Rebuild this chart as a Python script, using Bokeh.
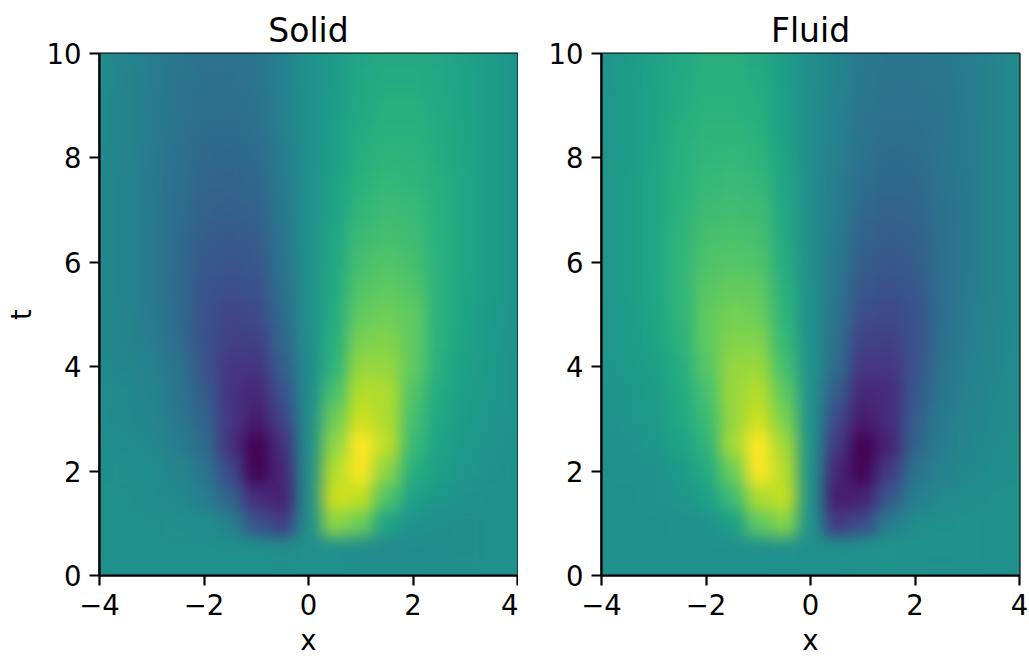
import numpy as np
from bokeh.plotting import figure
from bokeh.layouts import row
from bokeh.document import Document
from bokeh.models import Range1d, LinearColorMapper, FixedTicker, CustomJS
from bokeh.palettes import Viridis256
from bokeh.embed import file_html
from bokeh.resources import INLINE

x_ticks = [-4, -2, 0, 2, 4]
t_ticks = [0, 2, 4, 6, 8, 10]
x_labels = {-4: "\u22124", -2: "\u22122", 0: "0", 2: "2", 4: "4"}
titles = ["Solid", "Fluid"]

# rows: t = 0, 0.5, ... 10; columns: x = -4, -3.5, ... 4
solid = [
 [0,0,0,0,0,0,0,0,0,0,0,0,0,0,0,0,0],
 [0,0,0,0,0,0,0,-.01,0,0,-.03,-.04,-.03,-.02,-.01,0,0],
 [0,0,0,-.01,-.03,-.12,-.5,-.64,-.02,.66,.55,.15,.02,0,-.01,0,0],
 [0,0,-.02,-.05,-.14,-.38,-.75,-.82,-.02,.85,.82,.45,.14,.06,.02,0,0],
 [0,-.01,-.03,-.09,-.22,-.55,-1,-.78,-.02,.78,.98,.65,.25,.12,.05,.02,0],
 [-.01,-.03,-.06,-.15,-.3,-.72,-1,-.72,-.02,.66,1,.8,.35,.15,.08,.04,.01],
 [-.02,-.05,-.08,-.2,-.36,-.68,-.85,-.6,-.02,.55,.85,.75,.4,.18,.09,.05,.02],
 [-.03,-.06,-.1,-.22,-.42,-.7,-.78,-.5,-.03,.42,.78,.75,.45,.22,.12,.07,.02],
 [-.04,-.08,-.12,-.24,-.47,-.68,-.7,-.4,-.03,.3,.68,.68,.5,.25,.13,.08,.02],
 [-.05,-.1,-.15,-.28,-.5,-.62,-.62,-.34,-.01,.26,.6,.62,.5,.27,.15,.08,.03],
 [-.05,-.1,-.17,-.3,-.5,-.58,-.55,-.3,0,.24,.52,.56,.5,.28,.16,.09,.03],
 [-.05,-.11,-.18,-.32,-.48,-.53,-.5,-.27,0,.22,.46,.51,.46,.28,.17,.1,.03],
 [-.05,-.11,-.18,-.31,-.44,-.47,-.45,-.24,.01,.2,.41,.46,.41,.27,.18,.1,.03],
 [-.05,-.11,-.18,-.3,-.41,-.43,-.41,-.22,.01,.18,.36,.41,.38,.27,.18,.1,.03],
 [-.05,-.11,-.18,-.28,-.37,-.39,-.37,-.2,.01,.16,.32,.37,.35,.26,.18,.1,.03],
 [-.05,-.11,-.18,-.27,-.34,-.36,-.33,-.18,.01,.15,.28,.33,.31,.25,.18,.1,.03],
 [-.05,-.1,-.17,-.26,-.32,-.33,-.3,-.16,.01,.13,.25,.3,.29,.24,.17,.1,.03],
 [-.04,-.1,-.16,-.25,-.3,-.3,-.27,-.14,.01,.12,.23,.27,.27,.23,.17,.1,.03],
 [-.04,-.1,-.16,-.23,-.28,-.28,-.25,-.13,.01,.11,.21,.25,.25,.22,.16,.1,.03],
 [-.03,-.1,-.15,-.22,-.26,-.26,-.23,-.12,.01,.1,.2,.23,.23,.21,.16,.1,.03],
 [-.03,-.09,-.15,-.21,-.25,-.25,-.22,-.12,.01,.1,.18,.22,.22,.2,.15,.1,.03],
]
fluid = [
 [0,0,0,0,0,0,0,0,0,0,0,0,0,0,0,0,0],
 [0,0,0,0,0,0,0,.01,0,0,.03,.04,.03,.02,.01,0,0],
 [0,0,0,.01,.03,.12,.5,.64,.02,-.66,-.55,-.15,-.02,0,.01,0,0],
 [0,0,.02,.05,.14,.38,.75,.82,.02,-.85,-.82,-.45,-.14,-.06,-.02,0,0],
 [0,.01,.03,.09,.22,.55,1,.78,.02,-.78,-.98,-.65,-.25,-.12,-.05,-.02,0],
 [.01,.03,.06,.15,.3,.72,1,.72,.02,-.66,-1,-.8,-.35,-.15,-.08,-.04,-.01],
 [.02,.05,.08,.2,.36,.68,.85,.6,.02,-.55,-.85,-.75,-.4,-.18,-.09,-.05,-.02],
 [.03,.06,.1,.22,.42,.7,.78,.5,.03,-.42,-.78,-.75,-.45,-.22,-.12,-.07,-.02],
 [.04,.08,.12,.24,.47,.68,.7,.4,.03,-.3,-.68,-.68,-.5,-.25,-.13,-.08,-.02],
 [.05,.1,.15,.28,.5,.62,.62,.34,.01,-.26,-.6,-.62,-.5,-.27,-.15,-.08,-.03],
 [.05,.1,.17,.3,.5,.58,.55,.3,0,-.24,-.52,-.56,-.5,-.28,-.16,-.09,-.03],
 [.05,.11,.18,.32,.48,.53,.5,.27,0,-.22,-.46,-.51,-.46,-.28,-.17,-.1,-.03],
 [.05,.11,.18,.31,.44,.47,.45,.24,-.01,-.2,-.41,-.46,-.41,-.27,-.18,-.1,-.03],
 [.05,.11,.18,.3,.41,.43,.41,.22,-.01,-.18,-.36,-.41,-.38,-.27,-.18,-.1,-.03],
 [.05,.11,.18,.28,.37,.39,.37,.2,-.01,-.16,-.32,-.37,-.35,-.26,-.18,-.1,-.03],
 [.05,.11,.18,.27,.34,.36,.33,.18,-.01,-.15,-.28,-.33,-.31,-.25,-.18,-.1,-.03],
 [.05,.1,.17,.26,.32,.33,.3,.16,-.01,-.13,-.25,-.3,-.29,-.24,-.17,-.1,-.03],
 [.04,.1,.16,.25,.3,.3,.27,.14,-.01,-.12,-.23,-.27,-.27,-.23,-.17,-.1,-.03],
 [.04,.1,.16,.23,.28,.28,.25,.13,-.01,-.11,-.21,-.25,-.25,-.22,-.16,-.1,-.03],
 [.03,.1,.15,.22,.26,.26,.23,.12,-.01,-.1,-.2,-.23,-.23,-.21,-.16,-.1,-.03],
 [.03,.09,.15,.21,.25,.25,.22,.12,-.01,-.1,-.18,-.22,-.22,-.2,-.15,-.1,-.03],
]

TICK = "27.5px"
def panel(data, title, width, left, right, ylabel):
    p = figure(width=width, height=658, x_range=Range1d(-4, 4), y_range=Range1d(0, 10),
               output_backend="svg", toolbar_location=None, tools="",
               min_border_left=left, min_border_right=right, min_border_top=53, min_border_bottom=83)
    mapper = LinearColorMapper(palette=Viridis256, low=-1, high=1)
    p.image(image=[np.array(data, dtype=float)], x=-4.25, y=-0.25, dw=8.5, dh=10.5, color_mapper=mapper)
    p.background_fill_color = "#21918c"
    p.grid.visible = False
    p.title.text = title
    p.title.align = "center"
    p.title.text_font = "DejaVu Sans"
    p.title.text_font_size = "33px"
    p.title.text_font_style = "normal"
    p.title.text_color = "black"
    p.title.standoff = 7
    p.outline_line_color = "black"
    p.outline_line_width = 2.2
    for ax in (p.xaxis[0], p.yaxis[0]):
        ax.major_label_text_font = "DejaVu Sans"
        ax.major_label_text_font_size = TICK
        ax.major_label_text_color = "black"
        ax.major_label_text_line_height = 1.0
        ax.major_tick_in = 0
        ax.major_tick_out = 10
        ax.minor_tick_line_color = None
        ax.major_tick_line_width = 2.2
        ax.major_tick_line_color = "black"
        ax.axis_line_width = 2.2
        ax.axis_line_color = "black"
        ax.axis_label_text_font = "DejaVu Sans"
        ax.axis_label_text_font_size = TICK
        ax.axis_label_text_font_style = "normal"
        ax.axis_label_text_color = "black"
        ax.axis_label_text_line_height = 1.0
        ax.major_label_standoff = 8
        ax.axis_label_standoff = 7
    p.xaxis[0].axis_label_standoff = 6
    p.xaxis[0].ticker = FixedTicker(ticks=x_ticks)
    p.xaxis[0].major_label_overrides = x_labels
    p.yaxis[0].ticker = FixedTicker(ticks=t_ticks)
    p.xaxis[0].axis_label = "x"
    if ylabel:
        p.yaxis[0].axis_label = ylabel
    return p

a = panel(solid, titles[0], 518, 99, 1, "t")
b = panel(fluid, titles[1], 511, 83, 10, None)
page = row(a, b, spacing=0)

# purely visual: the browser softens the drawn cells, the values stay as read
smooth = CustomJS(code="""
function walk(root) {
  root.querySelectorAll('*').forEach(function (el) {
    if (el.tagName && el.tagName.toLowerCase() === 'image') {
      el.style.filter = 'blur(8px)';
    }
    if (el.shadowRoot) walk(el.shadowRoot);
  });
}
[0, 100, 300, 700, 1500].forEach(function (t) { setTimeout(function () { walk(document); }, t); });
""")
doc = Document()
doc.add_root(page)
doc.js_on_event("document_ready", smooth)
open("out.html", "w").write(file_html(doc, INLINE))
